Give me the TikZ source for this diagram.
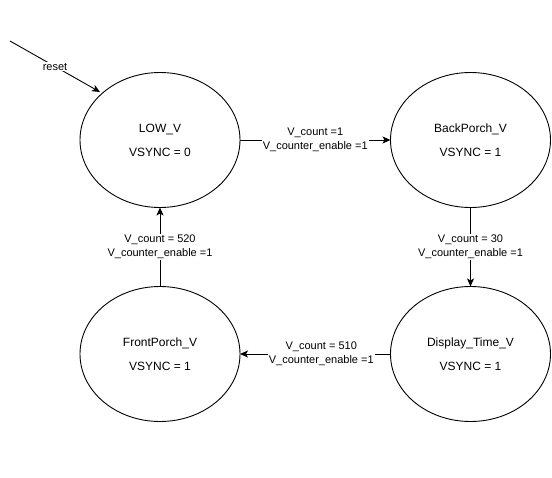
\documentclass[tikz,border=0pt]{standalone}
\usepackage{fontspec}
\setmainfont{Liberation Sans}
\usetikzlibrary{shapes.geometric,arrows.meta}
\begin{document}
\begin{tikzpicture}[x=1pt,y=-1pt,
  state/.style={draw,ellipse,line width=0.9pt,minimum width=160pt,minimum height=135pt,inner sep=0pt,outer sep=0pt,align=center,font=\fontsize{12}{24}\selectfont},
  trans/.style={draw,line width=0.9pt,-{Stealth[length=8pt,width=7pt,inset=2pt]}},
  lbl/.style={fill=white,inner sep=1pt,align=center,font=\fontsize{11}{14}\selectfont}]
\useasboundingbox (0,0) rectangle (552,477);
\node[state] (low) at (160,140) {LOW\_V\\VSYNC = 0};
\node[state] (back) at (470.5,140) {BackPorch\_V\\VSYNC = 1};
\node[state] (disp) at (470.5,354) {Display\_Time\_V\\VSYNC = 1};
\node[state] (front) at (160,354) {FrontPorch\_V\hspace{10pt}\\VSYNC = 1};
\coordinate (rs) at (10,41);
\coordinate (re) at (100,92);
\draw[trans] (rs) -- node[lbl,pos=0.5] {reset} (re);
\draw[trans] (low.east) -- node[lbl] {V\_count =1\\V\_counter\_enable =1} (back.west);
\draw[trans] (back.south) -- node[lbl] {V\_count = 30\\V\_counter\_enable =1} (disp.north);
\draw[trans] (disp.west) -- node[lbl,pos=0.46] {V\_count = 510\\V\_counter\_enable =1} (front.east);
\draw[trans] (front.north) -- node[lbl] {V\_count = 520\\V\_counter\_enable =1} (low.south);
\end{tikzpicture}
\end{document}
